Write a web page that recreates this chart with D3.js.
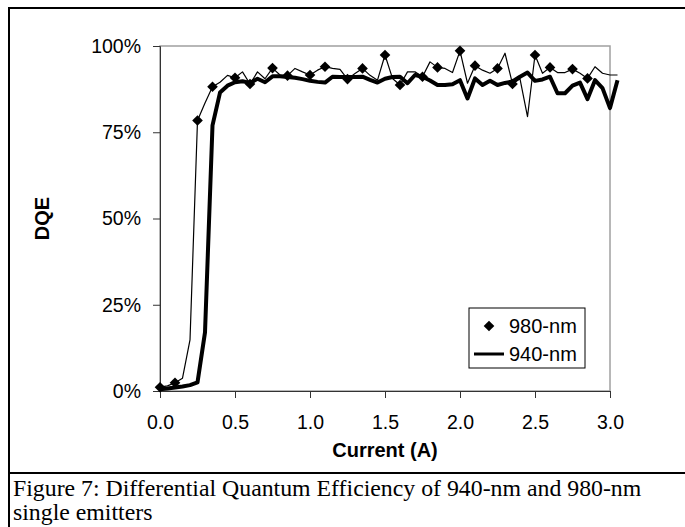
<!DOCTYPE html>
<html>
<head>
<style>
  body { margin: 0; background: #fff; }
  svg { display: block; }
</style>
</head>
<body>
<script src="https://d3js.org/d3.v7.min.js"></script>
<svg id="chart" width="685" height="527"></svg>
<script>
// current (A), one point every 0.05 A
const current = [0.00, 0.05, 0.10, 0.15, 0.20, 0.25, 0.30, 0.35, 0.40, 0.45,
                 0.50, 0.55, 0.60, 0.65, 0.70, 0.75, 0.80, 0.85, 0.90, 0.95,
                 1.00, 1.05, 1.10, 1.15, 1.20, 1.25, 1.30, 1.35, 1.40, 1.45,
                 1.50, 1.55, 1.60, 1.65, 1.70, 1.75, 1.80, 1.85, 1.90, 1.95,
                 2.00, 2.05, 2.10, 2.15, 2.20, 2.25, 2.30, 2.35, 2.40, 2.45,
                 2.50, 2.55, 2.60, 2.65, 2.70, 2.75, 2.80, 2.85, 2.90, 2.95,
                 3.00, 3.05];
// 980-nm DQE (%)
const dqe980 = [1.1, 1.5, 2.4, 3.7, 14.8, 78.4, 83.5, 88.2, 89.5, 91.5,
                90.8, 92.5, 89.0, 92.5, 90.5, 93.6, 91.6, 91.4, 93.5, 92.5,
                91.6, 93.0, 94.0, 93.5, 93.2, 90.4, 92.0, 93.5, 91.5, 90.1,
                97.4, 90.6, 88.7, 92.5, 92.5, 91.1, 95.4, 93.8, 93.5, 92.3,
                98.6, 89.2, 94.3, 93.0, 92.1, 93.5, 97.9, 89.0, 90.5, 79.5,
                97.4, 92.1, 93.8, 92.3, 92.3, 93.3, 92.1, 90.6, 94.0, 92.1,
                91.6, 91.6];
// 940-nm DQE (%)
const dqe940 = [0.5, 0.7, 1.0, 1.3, 1.7, 2.5, 17.0, 77.0, 86.5, 88.5,
                89.5, 89.8, 89.3, 90.5, 89.5, 91.2, 91.2, 91.0, 90.8, 90.4,
                89.9, 89.6, 89.4, 91.1, 91.0, 91.0, 91.0, 91.1, 90.2, 89.4,
                90.5, 91.0, 91.1, 89.2, 91.6, 91.1, 90.0, 88.7, 88.7, 88.9,
                90.1, 84.8, 90.6, 88.7, 89.9, 88.7, 89.3, 89.7, 91.1, 92.3,
                89.9, 90.3, 91.1, 86.3, 86.3, 88.5, 89.4, 84.6, 90.1, 87.8,
                82.0, 90.1];
// currents where the 980-nm diamonds are drawn
const markerCurrent = [0, 0.1, 0.25, 0.35, 0.5, 0.6, 0.75, 0.85, 1.0, 1.1, 1.25, 1.35,
                       1.5, 1.6, 1.75, 1.85, 2.0, 2.1, 2.25, 2.35, 2.5, 2.6, 2.75, 2.85];
const xTicks = [0, 0.5, 1.0, 1.5, 2.0, 2.5, 3.0];
const yTicks = [0, 0.25, 0.5, 0.75, 1.0];

const svg = d3.select('#chart');
const plot = {left: 160, right: 610, top: 46, bottom: 391};

const x = d3.scaleLinear().domain([0, 3]).range([plot.left, plot.right]);
const y = d3.scaleLinear().domain([0, 1]).range([plot.bottom, plot.top]);

// outer frame + caption separator
svg.append('line').attr('x1', 9).attr('x2', 685).attr('y1', 8).attr('y2', 8)
   .attr('stroke', '#000').attr('stroke-width', 2);
svg.append('line').attr('x1', 9).attr('x2', 9).attr('y1', 7).attr('y2', 527)
   .attr('stroke', '#000').attr('stroke-width', 2);
svg.append('line').attr('x1', 9).attr('x2', 685).attr('y1', 473).attr('y2', 473)
   .attr('stroke', '#000').attr('stroke-width', 2);

// plot area border (grey top/right)
svg.append('rect')
   .attr('x', plot.left).attr('y', plot.top)
   .attr('width', plot.right - plot.left).attr('height', plot.bottom - plot.top)
   .attr('fill', 'none').attr('stroke', '#a0a0a0').attr('stroke-width', 1.5);

const yAxis = d3.axisLeft(y).tickValues(yTicks).tickFormat(d3.format('.0%'))
                .tickSize(7).tickPadding(12);
const xAxis = d3.axisBottom(x).tickValues(xTicks).tickFormat(d3.format('.1f'))
                .tickSize(7).tickPadding(17);

const gy = svg.append('g').attr('transform', `translate(${plot.left},0)`).call(yAxis);
const gx = svg.append('g').attr('transform', `translate(0,${plot.bottom})`).call(xAxis);
[gx, gy].forEach(g => {
  g.select('.domain').attr('stroke', '#333');
  g.selectAll('.tick line').attr('stroke', '#333');
  g.selectAll('.tick text').attr('font-family', 'Liberation Sans, Arial, sans-serif')
   .attr('font-size', 19.5).attr('fill', '#000');
});

// series
const rows = current.map((c, i) => ({c: c, a: dqe980[i] / 100, b: dqe940[i] / 100}));

svg.append('path').datum(rows)
   .attr('fill', 'none').attr('stroke', '#000').attr('stroke-width', 1.2)
   .attr('stroke-linejoin', 'round')
   .attr('d', d3.line().x(d => x(d.c)).y(d => y(d.a)));

svg.append('path').datum(rows)
   .attr('fill', 'none').attr('stroke', '#000').attr('stroke-width', 4)
   .attr('stroke-linejoin', 'round')
   .attr('d', d3.line().x(d => x(d.c)).y(d => y(d.b)));

const marks = rows.filter(d => markerCurrent.some(m => Math.abs(m - d.c) < 1e-6));
const diamond = d3.symbol().type(d3.symbolDiamond2).size(72);
svg.append('g').selectAll('path').data(marks).join('path')
   .attr('transform', d => `translate(${x(d.c)},${y(d.a)})`)
   .attr('d', diamond).attr('fill', '#000');

// axis titles
svg.append('text').text('Current (A)')
   .attr('x', (plot.left + plot.right) / 2).attr('y', 457)
   .attr('text-anchor', 'middle')
   .attr('font-family', 'Liberation Sans, Arial, sans-serif')
   .attr('font-size', 20).attr('font-weight', 'bold');
svg.append('text').text('DQE')
   .attr('transform', `translate(49,${(plot.top + plot.bottom) / 2}) rotate(-90)`)
   .attr('text-anchor', 'middle')
   .attr('font-family', 'Liberation Sans, Arial, sans-serif')
   .attr('font-size', 20).attr('font-weight', 'bold');

// legend
const lg = svg.append('g');
lg.append('rect').attr('x', 469).attr('y', 308).attr('width', 116).attr('height', 60)
  .attr('fill', '#fff').attr('stroke', '#000').attr('stroke-width', 1);
lg.append('path').attr('transform', 'translate(489,326)').attr('d', diamond).attr('fill', '#000');
lg.append('line').attr('x1', 474).attr('x2', 504).attr('y1', 354).attr('y2', 354)
  .attr('stroke', '#000').attr('stroke-width', 3);
lg.selectAll('text').data(['980-nm', '940-nm']).join('text')
  .text(d => d)
  .attr('x', 509).attr('y', (d, i) => 333 + i * 28)
  .attr('font-family', 'Liberation Sans, Arial, sans-serif')
  .attr('font-size', 20);

// caption
svg.append('g').selectAll('text')
   .data(['Figure 7: Differential Quantum Efficiency of 940-nm and 980-nm', 'single emitters'])
   .join('text')
   .text(d => d)
   .attr('x', 13).attr('y', (d, i) => 496 + i * 24)
   .attr('font-family', 'Liberation Serif, Times New Roman, serif')
   .attr('font-size', 23.8);
</script>
</body>
</html>
